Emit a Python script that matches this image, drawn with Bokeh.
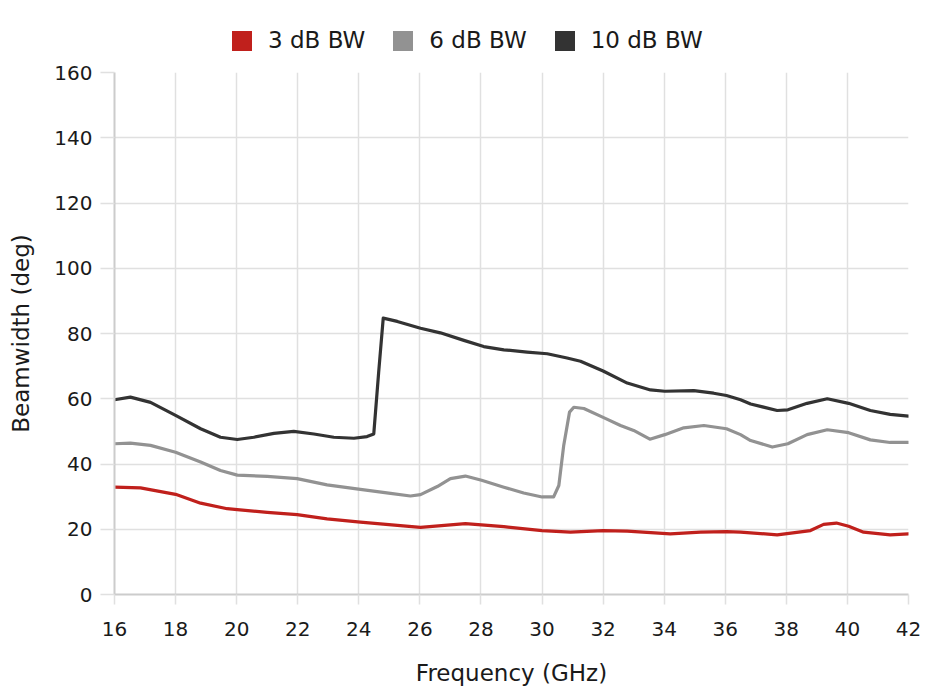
from bokeh.plotting import figure
from bokeh.layouts import column
from bokeh.models import Legend, LegendItem, SingleIntervalTicker, Range1d
from bokeh.embed import file_html
from bokeh.resources import INLINE

# ---- data ----
freq_10 = [16, 16.52, 17.18, 18.0, 18.82, 19.47, 20.02, 20.56, 21.22, 21.87, 22.53, 23.18, 23.84, 24.27, 24.49,
           24.65, 24.8, 25.26, 26.02, 26.67, 27.44, 28.09, 28.75, 29.51, 30.17, 30.82, 31.26, 32, 32.79, 33.55,
           34.02, 34.97, 35.62, 36.04, 36.5, 36.83, 37.7, 38.05, 38.68, 39.34, 40.04, 40.75, 41.4, 42]
bw_10 = [59.7, 60.5, 58.9, 54.9, 50.8, 48.2, 47.5, 48.2, 49.4, 50.0, 49.2, 48.2, 47.9, 48.4, 49.2,
         68.1, 84.7, 83.7, 81.6, 80.2, 77.9, 76.0, 75.0, 74.3, 73.8, 72.5, 71.5, 68.5, 64.8, 62.7,
         62.3, 62.5, 61.7, 61.0, 59.7, 58.4, 56.4, 56.6, 58.6, 60.0, 58.6, 56.4, 55.2, 54.7]

freq_6 = [16, 16.52, 17.18, 18, 18.82, 19.47, 20.02, 21, 21.98, 22.96, 24.05, 25.04, 25.69, 26.02, 26.57, 27,
          27.49, 28.02, 28.75, 29.4, 30, 30.38, 30.55, 30.71, 30.9, 31.04, 31.37, 32, 32.57, 33, 33.53, 34.02,
          34.64, 35.3, 36.04, 36.5, 36.83, 37.54, 38.05, 38.68, 39.34, 40.04, 40.75, 41.4, 42]
bw_6 = [46.2, 46.4, 45.7, 43.6, 40.6, 38.0, 36.6, 36.2, 35.5, 33.6, 32.2, 31.0, 30.2, 30.6, 33.1, 35.5,
        36.3, 35.0, 32.9, 31.1, 29.9, 29.9, 33.4, 45.7, 55.9, 57.4, 57.0, 54.3, 51.8, 50.3, 47.6, 49.0,
        51.1, 51.8, 50.8, 49.0, 47.2, 45.2, 46.2, 49.0, 50.5, 49.6, 47.4, 46.6, 46.6]

freq_3 = [16, 16.85, 18, 18.82, 19.69, 20.02, 21, 21.98, 22.96, 24.05, 25.36, 26.02, 27.49, 28.75, 30, 30.93,
          32, 32.79, 34.2, 35.19, 36.04, 36.5, 37.7, 38.79, 39.22, 39.64, 40.04, 40.53, 41.4, 42]
bw_3 = [32.9, 32.7, 30.7, 28.0, 26.3, 26.0, 25.2, 24.5, 23.2, 22.2, 21.1, 20.6, 21.7, 20.8, 19.6, 19.1,
        19.6, 19.4, 18.6, 19.1, 19.3, 19.1, 18.3, 19.6, 21.5, 21.9, 20.9, 19.1, 18.3, 18.6]

series_names = ["3 dB BW", "6 dB BW", "10 dB BW"]
series_colors = ["#c0201c", "#929292", "#333333"]

x_ticks_interval = 2
y_ticks_interval = 20

FONT = "DejaVu Sans"
TXT = "#1a1a1a"

# ---- legend strip ----
leg_fig = figure(width=930, height=62, output_backend="svg", toolbar_location=None,
                 x_axis_type=None, y_axis_type=None, x_range=Range1d(0, 1), y_range=Range1d(0, 1),
                 min_border_top=18, min_border_bottom=0, min_border_left=0, min_border_right=0)
leg_fig.outline_line_color = None
leg_fig.xgrid.visible = False
leg_fig.ygrid.visible = False

# ---- main chart ----
p = figure(width=930, height=632, x_range=(16, 42), y_range=(0, 160),
           output_backend="svg", toolbar_location=None,
           min_border_left=114, min_border_right=22, min_border_bottom=100, min_border_top=10)
p.outline_line_color = None
p.background_fill_color = "white"

for ax in (p.xaxis[0], p.yaxis[0]):
    ax.axis_line_color = "#cccccc"
    ax.axis_line_width = 2
    ax.major_tick_line_color = "#e0e0e0"
    ax.major_tick_line_width = 1.5
    ax.minor_tick_line_color = None
    ax.major_tick_in = 0
    ax.major_label_text_font = FONT
    ax.major_label_text_font_size = "20px"
    ax.major_label_text_color = TXT
    ax.axis_label_text_font = FONT
    ax.axis_label_text_font_size = "23px"
    ax.axis_label_text_font_style = "normal"
    ax.axis_label_text_color = TXT

p.xaxis.ticker = SingleIntervalTicker(interval=x_ticks_interval)
p.yaxis.ticker = SingleIntervalTicker(interval=y_ticks_interval)
p.xaxis.major_tick_out = 10
p.yaxis.major_tick_out = 14
p.xaxis.major_label_standoff = 17
p.yaxis.major_label_standoff = 8
p.xaxis.axis_label = "Frequency (GHz)"
p.yaxis.axis_label = "Beamwidth (deg)"
p.xaxis.axis_label_standoff = 21
p.yaxis.axis_label_standoff = 17

p.xgrid.grid_line_color = "#e0e0e0"
p.ygrid.grid_line_color = "#e0e0e0"
p.xgrid.grid_line_width = 1.5
p.ygrid.grid_line_width = 1.5

data = [(freq_3, bw_3), (freq_6, bw_6), (freq_10, bw_10)]
items = []
for (xs, ys), name, col in zip(data, series_names, series_colors):
    p.line(xs, ys, line_color=col, line_width=3.2, line_join="round", line_cap="round")
    # legend swatch proxy (hidden renderer; only its legend glyph is drawn)
    sw = leg_fig.quad(left=[0], right=[1], top=[1], bottom=[0], fill_color=col, line_color=None, visible=False)
    items.append(LegendItem(label=name, renderers=[sw]))

legend = Legend(items=items, orientation="horizontal", location=(115, 9),
                glyph_width=25, glyph_height=25, label_standoff=14, spacing=25,
                padding=0, margin=0, border_line_color=None, background_fill_alpha=0,
                label_text_font=FONT, label_text_font_size="23px", label_text_color=TXT)
leg_fig.add_layout(legend, "center")

layout = column(leg_fig, p, spacing=0)
open("out.html", "w").write(file_html(layout, INLINE))
